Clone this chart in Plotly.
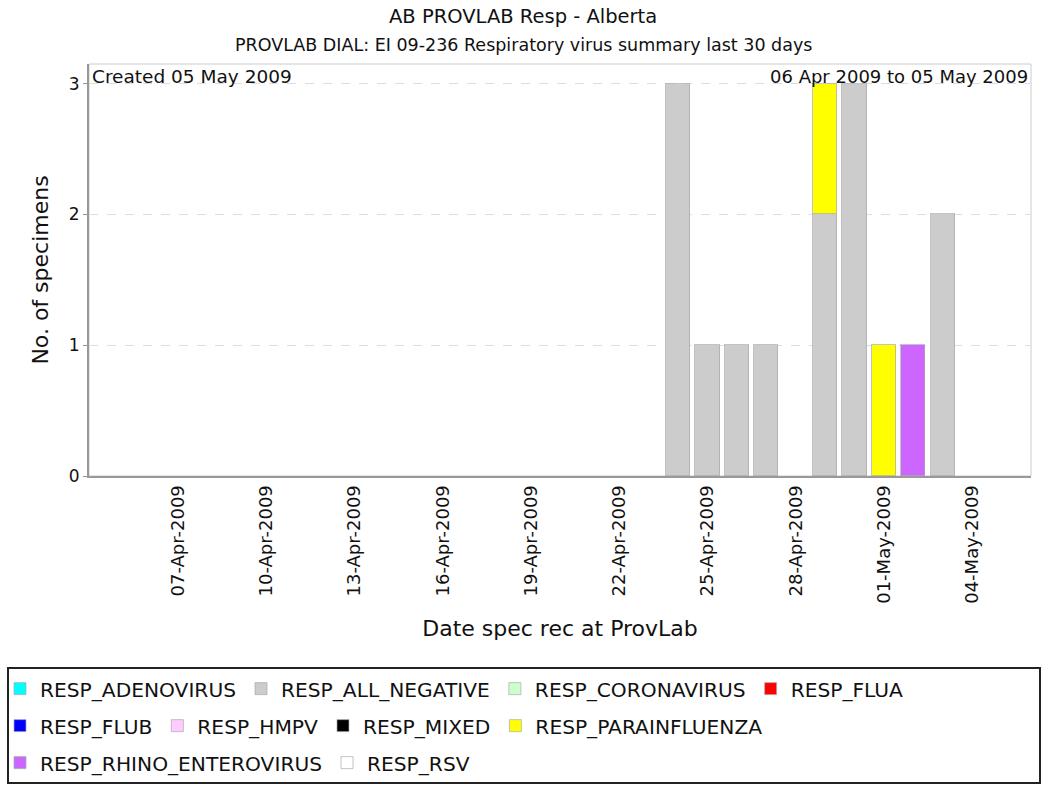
import plotly.graph_objects as go
import pandas as pd

# ---- data ----
dates = [d.strftime("%Y-%m-%d") for d in pd.date_range("2009-04-06", "2009-05-05", freq="D")]

series_names = [
    "RESP_ADENOVIRUS", "RESP_ALL_NEGATIVE", "RESP_CORONAVIRUS", "RESP_FLUA",
    "RESP_FLUB", "RESP_HMPV", "RESP_MIXED", "RESP_PARAINFLUENZA",
    "RESP_RHINO_ENTEROVIRUS", "RESP_RSV",
]
series_colors = [
    "#00FFFF", "#CCCCCC", "#CCFFCC", "#FF0000",
    "#0000FF", "#FFCCFF", "#000000", "#FFFF00",
    "#CC66FF", "#FFFFFF",
]

# counts per day, 06-Apr-2009 .. 05-May-2009 (30 days)
adenovirus        = [0] * 30
all_negative      = [0]*18 + [3, 1, 1, 1, 0, 2, 3, 0, 0, 2, 0, 0]
coronavirus       = [0] * 30
flua              = [0] * 30
flub              = [0] * 30
hmpv              = [0] * 30
mixed             = [0] * 30
parainfluenza     = [0]*23 + [1, 0, 1, 0, 0, 0, 0]
rhino_enterovirus = [0]*26 + [1, 0, 0, 0]
rsv               = [0] * 30

series_values = [adenovirus, all_negative, coronavirus, flua, flub, hmpv,
                 mixed, parainfluenza, rhino_enterovirus, rsv]

tick_dates = ["2009-04-07", "2009-04-10", "2009-04-13", "2009-04-16", "2009-04-19",
              "2009-04-22", "2009-04-25", "2009-04-28", "2009-05-01", "2009-05-04"]
tick_labels = ["07-Apr-2009", "10-Apr-2009", "13-Apr-2009", "16-Apr-2009", "19-Apr-2009",
               "22-Apr-2009", "25-Apr-2009", "28-Apr-2009", "01-May-2009", "04-May-2009"]

title_text = "AB PROVLAB Resp - Alberta"
subtitle_text = "PROVLAB DIAL: EI 09-236 Respiratory virus summary last 30 days"

# ---- figure ----
FONT = "DejaVu Sans"
W, H = 1046, 785
L, R, T, B = 89, 15, 64, 309
PW, PH = W - L - R, H - T - B

def px_x(p):
    return (p - L) / PW

def px_y(p):
    return (H - B - p) / PH

legend_rows = ["legend"] * 4 + ["legend2"] * 4 + ["legend3"] * 2

fig = go.Figure()
DAY_MS = 86400000
for name, color, vals, lg in zip(series_names, series_colors, series_values, legend_rows):
    fig.add_trace(go.Bar(
        x=dates,
        y=[v if v else None for v in vals],
        name=name,
        marker=dict(color=color, line=dict(color="rgba(170,170,170,0.7)", width=1)),
        width=0.82 * DAY_MS,
        legend=lg,
        hoverinfo="x+y+name",
    ))

legend_common = dict(
    orientation="h", xanchor="left", yanchor="middle",
    font=dict(family=FONT, size=20.2, color="#111111"),
    bgcolor="rgba(0,0,0,0)", borderwidth=0, itemwidth=30,
    traceorder="normal",
)

fig.update_layout(
    width=W, height=H,
    margin=dict(l=L, r=R, t=T, b=B, autoexpand=False),
    paper_bgcolor="white", plot_bgcolor="white",
    barmode="stack", bargap=0,
    font=dict(family=FONT, color="#111111"),
    showlegend=True,
    legend=dict(legend_common, x=px_x(0), y=px_y(689)),
    legend2=dict(legend_common, x=px_x(0), y=px_y(726)),
    legend3=dict(legend_common, x=px_x(0), y=px_y(763)),
    xaxis=dict(
        type="date",
        range=["2009-04-03 23:15", "2009-05-06 00:00"],
        tickmode="array", tickvals=tick_dates, ticktext=tick_labels,
        tickangle=-90, tickfont=dict(family=FONT, size=18, color="#111111"),
        showgrid=False, zeroline=False,
        showline=True, linecolor="#999999", linewidth=2, mirror=False,
        ticks="", automargin=False,
        title=dict(text="Date spec rec at ProvLab", font=dict(family=FONT, size=22, color="#111111"), standoff=18),
    ),
    yaxis=dict(
        range=[0, 3.15],
        tickmode="array", tickvals=[0, 1, 2, 3], ticktext=["0", "1", "2", "3"],
        tickfont=dict(family=FONT, size=17, color="#111111"),
        showgrid=True, gridcolor="#dddddd", griddash="dash", gridwidth=1,
        zeroline=False,
        showline=True, linecolor="#999999", linewidth=2, mirror=False,
        ticks="outside", ticklen=4, tickcolor="#999999",
        automargin=False,
        title=dict(text="No. of specimens", font=dict(family=FONT, size=22, color="#111111"), standoff=14),
    ),
    shapes=[
        # light plot border (top/right)
        dict(type="rect", xref="paper", yref="paper", x0=0, x1=1, y0=0, y1=1,
             line=dict(color="#cccccc", width=1), fillcolor="rgba(0,0,0,0)", layer="below"),
        # legend frame
        dict(type="rect", xref="paper", yref="paper",
             x0=px_x(8), x1=px_x(1040), y0=px_y(783), y1=px_y(668),
             line=dict(color="#222222", width=2), fillcolor="rgba(0,0,0,0)"),
    ],
    annotations=[
        dict(text=title_text, xref="paper", yref="paper", x=px_x(523), y=px_y(17),
             xanchor="center", yanchor="middle", showarrow=False,
             font=dict(family=FONT, size=19.5, color="#111111")),
        dict(text=subtitle_text, xref="paper", yref="paper", x=px_x(523), y=px_y(45),
             xanchor="center", yanchor="middle", showarrow=False,
             font=dict(family=FONT, size=17.5, color="#111111")),
        dict(text="Created 05 May 2009", xref="paper", yref="paper", x=0, y=1,
             xanchor="left", yanchor="top", xshift=1, yshift=0, showarrow=False,
             font=dict(family=FONT, size=18.5, color="#111111")),
        dict(text="06 Apr 2009 to 05 May 2009", xref="paper", yref="paper", x=1, y=1,
             xanchor="right", yanchor="top", xshift=-1, yshift=0, showarrow=False,
             font=dict(family=FONT, size=18, color="#111111")),
    ],
)

fig.write_html(
    "out.html",
    config={"displayModeBar": False},
    post_script="document.body.style.margin='0';document.body.style.overflow='hidden';",
)
